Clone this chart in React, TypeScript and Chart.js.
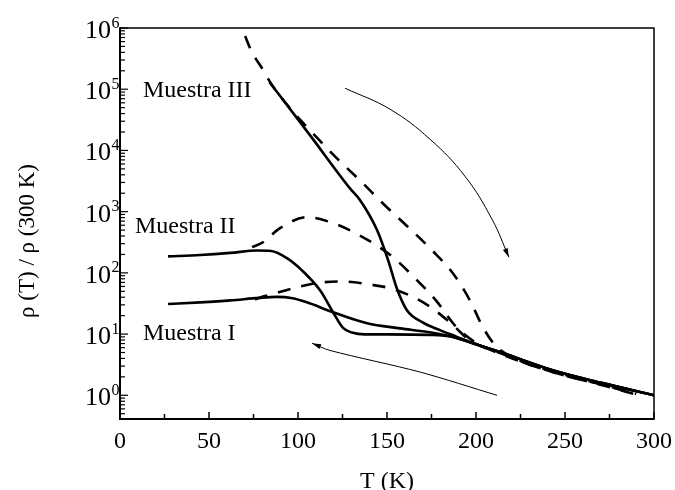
import React, { useEffect, useRef } from 'react';
import { Chart, registerables } from 'chart.js';
Chart.register(...registerables);

// ---- data (T in K, rho(T)/rho(300K)) ----
const s3SolidT = [84, 106.7, 129.2, 134.8, 144.4, 150.6, 155.6, 161.2, 170, 180, 189, 200, 215, 243, 271, 300];
const s3SolidR = [1.3e5, 1.78e4, 2.4e3, 1.55e3, 500, 162, 55, 24.5, 15.5, 11.5, 9.1, 6.8, 4.9, 2.57, 1.58, 1.0];

const s3DashT = [65.2, 68.5, 74.2, 79.8, 85.4, 95.5, 106.7, 121.9, 134.8, 148.9, 161.8, 175.3, 187.1, 196.6, 203.9, 210.7, 219, 243, 271, 290];
const s3DashR = [1.7e6, 1.0e6, 4.0e5, 2.2e5, 1.17e5, 4.9e4, 2.14e4, 7.4e3, 3.24e3, 1.26e3, 562, 234, 98, 35.5, 12.9, 6.6, 4.4, 2.4, 1.48, 1.05];

const s2SolidT = [27, 45, 62, 77, 85, 93.8, 102.2, 112.4, 119.7, 125.3, 130.3, 137.6, 150, 174, 187, 200, 215, 243, 271, 300];
const s2SolidR = [186, 196, 212, 232, 228, 174, 110, 52, 22.7, 12.6, 10.6, 9.9, 9.9, 9.7, 9.0, 6.8, 4.9, 2.57, 1.58, 1.0];

const s2DashT = [74.2, 80.3, 89.9, 105.1, 118, 134.8, 152.8, 165.2, 177.5, 188.2, 199.4, 215, 243, 271, 290];
const s2DashR = [263, 316, 537, 813, 676, 407, 186, 85, 35.5, 13.8, 7.4, 4.6, 2.4, 1.46, 1.03];

const s1SolidT = [27, 45, 62, 78, 88, 97, 105, 119.7, 138.8, 157.3, 174, 187, 200, 215, 243, 271, 300];
const s1SolidR = [31, 33, 35.5, 39, 40.5, 38.5, 33, 22.7, 15, 12.4, 10.7, 9.0, 6.8, 4.9, 2.57, 1.58, 1.0];

const s1DashT = [75.8, 81.5, 93.8, 109.6, 124.2, 140.4, 155, 171.9, 185.4, 196.6, 215, 243, 271, 290];
const s1DashR = [37, 41.7, 52.5, 67.6, 72.4, 64.6, 52.5, 30.9, 15.5, 7.9, 4.7, 2.45, 1.5, 1.05];

// annotation arrows (heating / cooling direction)
const arrowDownT = [126.4, 151.7, 174.2, 193.8, 209, 218.5];
const arrowDownR = [1.04e5, 4.71e4, 1.52e4, 3.79e3, 751, 180];
const arrowUpT = [211.8, 168.5, 118, 107.9];
const arrowUpR = [1.0, 2.4, 5.4, 7.08];

// ticks / labels
const xTickValues = [0, 50, 100, 150, 200, 250, 300];
const xTickLabels = ['0', '50', '100', '150', '200', '250', '300'];
const yDecades = [0, 1, 2, 3, 4, 5, 6];
const yExpLabels = ['0', '1', '2', '3', '4', '5', '6'];
const sampleLabels = ['Muestra III', 'Muestra II', 'Muestra I'];
const sampleLabelT = [12.9, 8.4, 12.9];
const sampleLabelR = [7.5e4, 444, 7.9];
const xTitle = 'T (K)';
const yTitle = 'ρ (T) / ρ (300 K)';

const X_MIN = 0, X_MAX = 300, Y_MIN = 0.41, Y_MAX = 1e6;

const zip = (t: number[], r: number[]) => t.map((x, i) => ({ x, y: r[i] }));

const SERIF = '"Liberation Serif", "DejaVu Serif", serif';

const decorPlugin = {
  id: 'decor',
  afterDraw(chart: any) {
    const ctx = chart.ctx as CanvasRenderingContext2D;
    const xs = chart.scales.x;
    const ys = chart.scales.y;
    const a = chart.chartArea;
    ctx.save();
    ctx.strokeStyle = '#000';
    ctx.fillStyle = '#000';

    // arrowheads
    [6, 7].forEach((di) => {
      const meta = chart.getDatasetMeta(di);
      const pts = meta.data;
      const p1 = pts[pts.length - 2];
      const p2 = pts[pts.length - 1];
      const ang = Math.atan2(p2.y - p1.y, p2.x - p1.x);
      const L = 9, W = 2.6;
      ctx.beginPath();
      ctx.moveTo(p2.x, p2.y);
      ctx.lineTo(p2.x - L * Math.cos(ang) + W * Math.sin(ang), p2.y - L * Math.sin(ang) - W * Math.cos(ang));
      ctx.lineTo(p2.x - L * Math.cos(ang) - W * Math.sin(ang), p2.y - L * Math.sin(ang) + W * Math.cos(ang));
      ctx.closePath();
      ctx.fill();
    });

    // frame
    ctx.lineWidth = 1.5;
    ctx.beginPath();
    ctx.moveTo(a.left, a.top);
    ctx.lineTo(a.right, a.top);
    ctx.lineTo(a.right, a.bottom);
    ctx.stroke();
    ctx.lineWidth = 2;
    ctx.beginPath();
    ctx.moveTo(a.left, a.top - 0.7);
    ctx.lineTo(a.left, a.bottom);
    ctx.lineTo(a.right + 0.7, a.bottom);
    ctx.stroke();

    // x ticks
    ctx.lineWidth = 1.5;
    for (let v = X_MIN; v <= X_MAX; v += 25) {
      const px = xs.getPixelForValue(v);
      const len = v % 50 === 0 ? 7 : 5;
      ctx.beginPath();
      ctx.moveTo(px, a.bottom);
      ctx.lineTo(px, a.bottom - len);
      ctx.stroke();
    }
    // y ticks
    ctx.lineWidth = 1.2;
    for (let d = -1; d <= 6; d++) {
      for (let k = 1; k <= 9; k++) {
        const v = k * Math.pow(10, d);
        if (v < Y_MIN || v > Y_MAX) continue;
        const py = ys.getPixelForValue(v);
        const len = k === 1 ? 8 : 5;
        ctx.beginPath();
        ctx.moveTo(a.left, py);
        ctx.lineTo(a.left + len, py);
        ctx.stroke();
      }
    }

    // x tick labels
    ctx.font = `24px ${SERIF}`;
    ctx.textAlign = 'center';
    ctx.textBaseline = 'alphabetic';
    xTickValues.forEach((v, i) => {
      ctx.fillText(xTickLabels[i], xs.getPixelForValue(v), a.bottom + 29);
    });

    // y tick labels 10^n
    yDecades.forEach((d, i) => {
      const py = ys.getPixelForValue(Math.pow(10, d));
      ctx.font = `26px ${SERIF}`;
      ctx.textAlign = 'right';
      ctx.fillText('10', a.left - 9, py + 10);
      ctx.font = `16px ${SERIF}`;
      ctx.textAlign = 'left';
      ctx.fillText(yExpLabels[i], a.left - 8.5, py - 0.5);
    });

    // axis titles
    ctx.font = `24px ${SERIF}`;
    ctx.textAlign = 'center';
    ctx.fillText(xTitle, (a.left + a.right) / 2, a.bottom + 69);
    ctx.save();
    ctx.translate(34, 241);
    ctx.rotate(-Math.PI / 2);
    ctx.font = `23px ${SERIF}`;
    ctx.fillText(yTitle, 0, 0);
    ctx.restore();

    // sample labels
    ctx.font = `24px ${SERIF}`;
    ctx.textAlign = 'left';
    sampleLabels.forEach((s, i) => {
      ctx.fillText(s, xs.getPixelForValue(sampleLabelT[i]), ys.getPixelForValue(sampleLabelR[i]));
    });
    ctx.restore();
  },
};

export default function App() {
  const ref = useRef<HTMLCanvasElement | null>(null);
  useEffect(() => {
    if (!ref.current) return;
    const thick = 2.6;
    const dash = [13, 11];
    const base = {
      borderColor: '#000',
      backgroundColor: '#000',
      pointRadius: 0,
      fill: false,
      cubicInterpolationMode: 'monotone' as const,
      borderCapStyle: 'butt' as const,
    };
    const chart = new Chart(ref.current, {
      type: 'line',
      data: {
        datasets: [
          { ...base, label: 'III enfriando', data: zip(s3SolidT, s3SolidR), borderWidth: thick },
          { ...base, label: 'III calentando', data: zip(s3DashT, s3DashR), borderWidth: thick, borderDash: dash },
          { ...base, label: 'II enfriando', data: zip(s2SolidT, s2SolidR), borderWidth: thick },
          { ...base, label: 'II calentando', data: zip(s2DashT, s2DashR), borderWidth: thick, borderDash: dash },
          { ...base, label: 'I enfriando', data: zip(s1SolidT, s1SolidR), borderWidth: thick },
          { ...base, label: 'I calentando', data: zip(s1DashT, s1DashR), borderWidth: thick, borderDash: dash },
          { ...base, label: 'flecha1', data: zip(arrowDownT, arrowDownR), borderWidth: 1, cubicInterpolationMode: 'default' as const, tension: 0.4 },
          { ...base, label: 'flecha2', data: zip(arrowUpT, arrowUpR), borderWidth: 1, cubicInterpolationMode: 'default' as const, tension: 0.3 },
        ],
      },
      options: {
        animation: false,
        responsive: false,
        maintainAspectRatio: false,
        parsing: true,
        layout: { padding: { left: 120, top: 28, right: 21, bottom: 71 } },
        plugins: { legend: { display: false }, tooltip: { enabled: false } },
        scales: {
          x: { type: 'linear', min: X_MIN, max: X_MAX, display: false },
          y: { type: 'logarithmic', min: Y_MIN, max: Y_MAX, display: false },
        },
      },
      plugins: [decorPlugin],
    });
    return () => chart.destroy();
  }, []);
  return (
    <div style={{ position: 'absolute', left: 0, top: 0, width: 675, height: 490, background: '#fff' }}>
      <canvas ref={ref} width={675} height={490} style={{ width: 675, height: 490, display: 'block' }} />
    </div>
  );
}
